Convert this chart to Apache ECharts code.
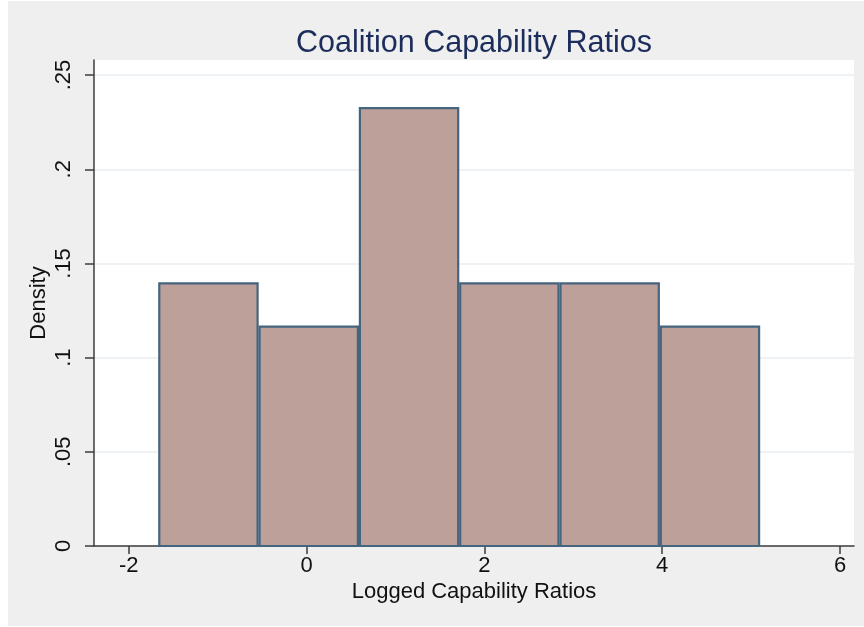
<!DOCTYPE html>
<html>
<head>
<meta charset="utf-8">
<script src="https://cdn.jsdelivr.net/npm/echarts@6/dist/echarts.min.js"></script>
<style>
html,body{margin:0;padding:0;background:#ffffff;}
#chart{width:864px;height:627px;}
</style>
</head>
<body>
<div id="chart"></div>
<script>
// Histogram data
var binStarts = [-1.667, -0.539, 0.589, 1.717, 2.845, 3.973];
var binEnds   = [-0.539, 0.589, 1.717, 2.845, 3.973, 5.101];
var densities = [0.140, 0.117, 0.233, 0.140, 0.140, 0.117];
var xTicks = [-2, 0, 2, 4, 6];
var yTicks = [0, 0.05, 0.1, 0.15, 0.2, 0.25];
var yTickLabels = ['0', '.05', '.1', '.15', '.2', '.25'];

var FONT = '"Liberation Sans", Arial, sans-serif';
var barData = binStarts.map(function (s, i) { return [s, binEnds[i], densities[i]]; });

var chart = echarts.init(document.getElementById('chart'), null, {renderer: 'canvas'});
chart.setOption({
  animation: false,
  backgroundColor: '#ffffff',
  graphic: [{
    type: 'rect', z: -10, silent: true,
    shape: {x: 8, y: 1, width: 856, height: 625},
    style: {fill: '#efefef'}
  }],
  title: {
    text: 'Coalition Capability Ratios',
    left: 469, top: 23, textAlign: 'center',
    textStyle: {color: '#1c2d5b', fontSize: 30.5, fontWeight: 'normal', fontFamily: FONT}
  },
  grid: {
    left: 94, right: 10, top: 60, bottom: 81,
    show: true, backgroundColor: '#ffffff', borderWidth: 0
  },
  xAxis: {
    type: 'value', min: -2.39, max: 6.157,
    name: 'Logged Capability Ratios', nameLocation: 'middle', nameGap: 35, nameMoveOverlap: false,
    nameTextStyle: {color: '#111', fontSize: 22, fontFamily: FONT},
    axisLine: {show: true, onZero: false, lineStyle: {color: '#3c3c3c', width: 1.5}},
    axisTick: {show: true, length: 8, customValues: xTicks, lineStyle: {color: '#3c3c3c', width: 1.5}},
    axisLabel: {customValues: xTicks, margin: 9, color: '#111', fontSize: 22, fontFamily: FONT},
    splitLine: {show: false}
  },
  yAxis: {
    type: 'value', min: 0, max: 0.258,
    name: 'Density', nameLocation: 'middle', nameGap: 44, nameRotate: 90, nameMoveOverlap: false,
    nameTextStyle: {color: '#111', fontSize: 22, fontFamily: FONT},
    axisLine: {show: true, onZero: false, lineStyle: {color: '#3c3c3c', width: 1.5}},
    axisTick: {show: true, length: 9, customValues: yTicks, lineStyle: {color: '#3c3c3c', width: 1.5}},
    axisLabel: {
      customValues: yTicks, rotate: 90, margin: 19, color: '#111', fontSize: 22, fontFamily: FONT,
      formatter: function (v) {
        for (var i = 0; i < yTicks.length; i++) { if (Math.abs(v - yTicks[i]) < 1e-9) return yTickLabels[i]; }
        return '';
      }
    },
    splitLine: {show: true, lineStyle: {color: '#e8eef2', width: 1.5}}
  },
  series: [{
    type: 'custom',
    data: barData,
    encode: {x: [0, 1], y: 2},
    renderItem: function (params, api) {
      var p0 = api.coord([api.value(0), api.value(2)]);
      var p1 = api.coord([api.value(1), 0]);
      return {
        type: 'rect',
        shape: {x: p0[0] + 1, y: p0[1] + 1, width: p1[0] - p0[0] - 2, height: p1[1] - p0[1] - 1},
        style: {fill: '#bca099', stroke: '#45647e', lineWidth: 2.2}
      };
    }
  }]
});
</script>
</body>
</html>
